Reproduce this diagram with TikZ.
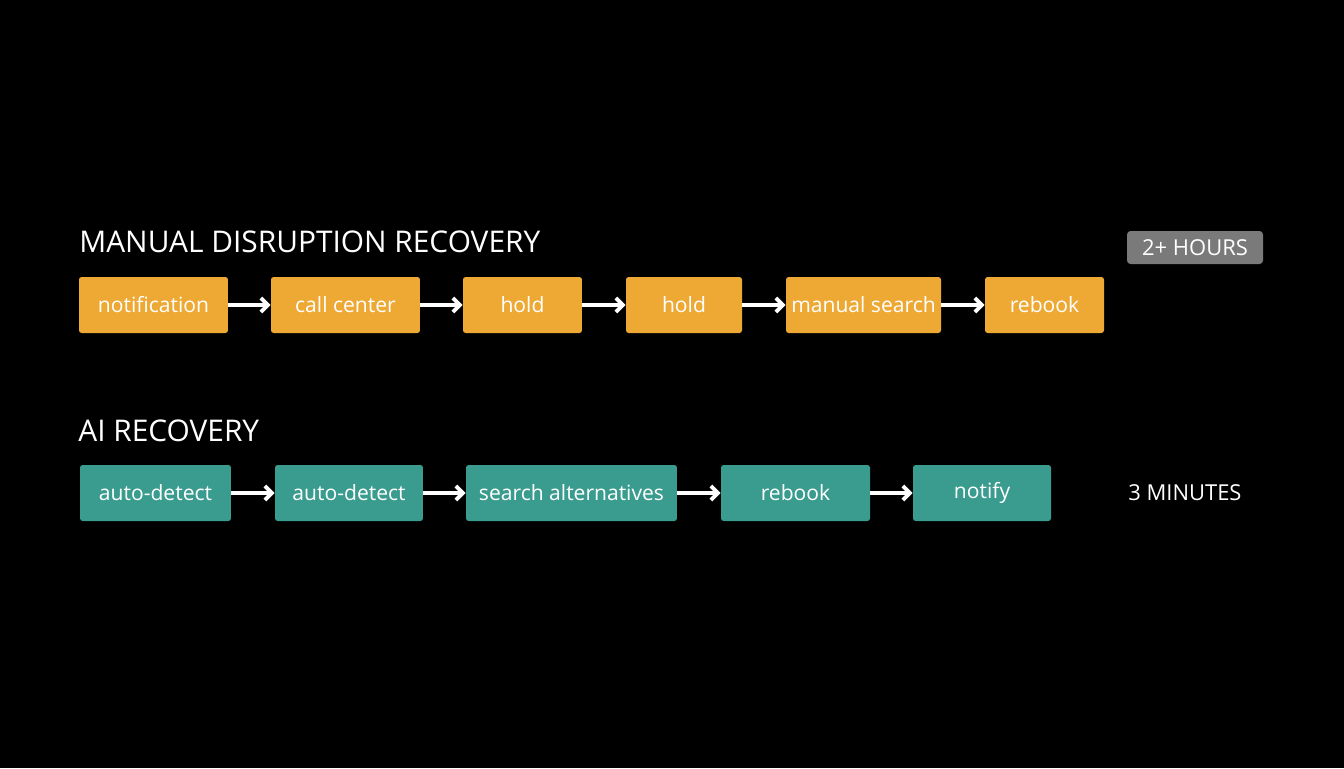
\documentclass[tikz,border=0pt]{standalone}
\usepackage{fontspec}
\setmainfont{Open Sans}
\usepackage{tikz}
\usetikzlibrary{arrows.meta,positioning}
\definecolor{manualc}{HTML}{EEA935}
\definecolor{aic}{HTML}{3A9C8E}
\definecolor{badgec}{HTML}{7A7A7A}

\begin{document}
\begin{tikzpicture}[
    x=0.02cm, y=-0.02cm,
    box/.style={rectangle, rounded corners=1.5pt, minimum height=1.12cm, text=white, font=\fontsize{12}{14}\selectfont, inner sep=0pt},
    manual/.style={box, fill=manualc},
    ai/.style={box, fill=aic},
    title/.style={text=white, anchor=west, font=\fontsize{17}{20}\selectfont, inner sep=0pt},
    flow/.style={-{Straight Barb[length=4pt]}, white, line width=2.2pt},
]
    \fill[black] (0,0) rectangle (1344,768);

    % manual row
    \node[title] (mtitle) at (79,242) {MANUAL DISRUPTION RECOVERY};
    \node[manual, minimum width=2.98cm] (m1) at (153.5,305) {notification};
    \node[manual, minimum width=2.98cm] (m2) at (345.5,305) {call center};
    \node[manual, minimum width=2.38cm] (m3) at (522.5,305) {hold};
    \node[manual, minimum width=2.32cm] (m4) at (684,305) {hold};
    \node[manual, minimum width=3.1cm] (m5) at (863.5,305) {manual search};
    \node[manual, minimum width=2.38cm] (m6) at (1044.5,305) {rebook};
    \node[rectangle, rounded corners=2pt, fill=badgec, text=white, minimum width=2.72cm, minimum height=0.66cm, font=\fontsize{12.5}{14}\selectfont, inner sep=0pt] (mtime) at (1195,247.5) {2+ HOURS};

    \draw[flow] (m1) -- (m2);
    \draw[flow] (m2) -- (m3);
    \draw[flow] (m3) -- (m4);
    \draw[flow] (m4) -- (m5);
    \draw[flow] (m5) -- (m6);

    % ai row
    \node[title] (atitle) at (78,431) {AI RECOVERY};
    \node[ai, minimum width=3.02cm] (a1) at (155.5,493) {auto-detect};
    \node[ai, minimum width=2.96cm] (a2) at (349,493) {auto-detect};
    \node[ai, minimum width=4.22cm] (a3) at (571.5,493) {search alternatives};
    \node[ai, minimum width=2.98cm] (a4) at (795.5,493) {rebook};
    \node[ai, minimum width=2.76cm] (a5) at (982,493) {notify};
    \node[text=white, anchor=west, inner sep=0pt, font=\fontsize{12.5}{14}\selectfont] (atime) at (1128,493) {3 MINUTES};

    \draw[flow] (a1) -- (a2);
    \draw[flow] (a2) -- (a3);
    \draw[flow] (a3) -- (a4);
    \draw[flow] (a4) -- (a5);
\end{tikzpicture}
\end{document}
